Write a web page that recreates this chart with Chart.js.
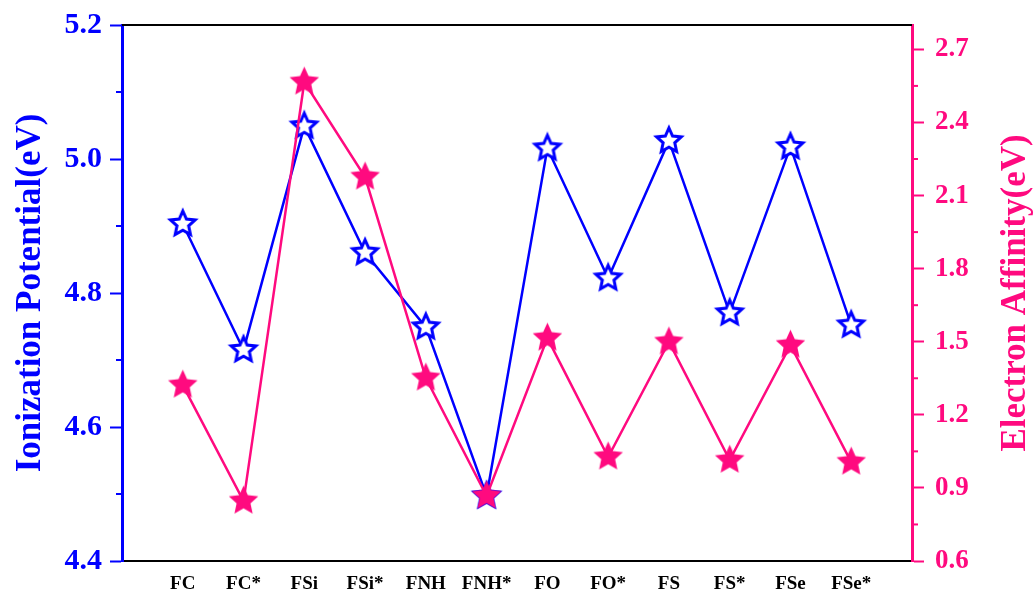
<!DOCTYPE html>
<html>
<head>
<meta charset="utf-8">
<script src="https://cdn.jsdelivr.net/npm/chart.js@4.4.0/dist/chart.umd.min.js"></script>
<style>
  html, body { margin: 0; padding: 0; background: #fff; }
  #wrap { width: 1035px; height: 590px; }
</style>
</head>
<body>
<div id="wrap"><canvas id="myChart"></canvas></div>
<script>
// categories
let categories = ['FC', 'FC*', 'FSi', 'FSi*', 'FNH', 'FNH*', 'FO', 'FO*', 'FS', 'FS*', 'FSe', 'FSe*'];
// Ionization Potential (eV)
let ionization = [4.903, 4.715, 5.049, 4.860, 4.749, 4.497, 5.016, 4.822, 5.027, 4.770, 5.018, 4.752];
// Electron Affinity (eV)
let affinity = [1.322, 0.846, 2.566, 2.176, 1.351, 0.867, 1.515, 1.027, 1.499, 1.014, 1.486, 1.006];
// tick labels
let leftTicks = [4.4, 4.6, 4.8, 5.0, 5.2];
let rightTicks = [0.6, 0.9, 1.2, 1.5, 1.8, 2.1, 2.4, 2.7];

const BLUE = '#0000ff';
const PINK = '#ff0a7f';
const FONT = '"Liberation Serif", "Times New Roman", serif';

// 5-point star marker as canvas
function makeStar(R, fill, stroke, lw) {
    let size = Math.ceil(R * 2 + lw * 2 + 2);
    let c = document.createElement('canvas');
    c.width = size; c.height = size;
    let g = c.getContext('2d');
    let cx = size / 2, cy = size / 2, r = R * 0.47;
    g.beginPath();
    for (let i = 0; i < 10; i++) {
        let rad = i % 2 === 0 ? R : r;
        let a = -Math.PI / 2 + i * Math.PI / 5;
        let px = cx + rad * Math.cos(a), py = cy + rad * Math.sin(a);
        if (i === 0) g.moveTo(px, py); else g.lineTo(px, py);
    }
    g.closePath();
    g.fillStyle = fill;
    g.fill();
    if (stroke) {
        g.lineJoin = 'miter';
        g.lineWidth = lw;
        g.strokeStyle = stroke;
        g.stroke();
    }
    return c;
}
let hollowStar = makeStar(13, '#ffffff', BLUE, 3);
let solidStar = makeStar(15.5, PINK, null, 0);

// top frame, minor ticks, axis titles (both read bottom-to-top)
const framePlugin = {
    id: 'frame',
    afterDraw(chart) {
        let ctx = chart.ctx, a = chart.chartArea;
        ctx.save();
        ctx.strokeStyle = '#000';
        ctx.lineWidth = 2;
        ctx.beginPath();
        ctx.moveTo(a.left, a.top);
        ctx.lineTo(a.right, a.top);
        ctx.stroke();
        let drawMinor = (scale, vals, color, dir) => {
            ctx.strokeStyle = color;
            ctx.lineWidth = 2;
            vals.forEach(v => {
                let y = scale.getPixelForValue(v);
                let x0 = dir < 0 ? a.left : a.right;
                ctx.beginPath();
                ctx.moveTo(x0, y);
                ctx.lineTo(x0 + dir * 6, y);
                ctx.stroke();
            });
        };
        drawMinor(chart.scales.y, leftTicks.slice(1).map(v => v - 0.1), BLUE, -1);
        drawMinor(chart.scales.y1, rightTicks.slice(1).map(v => v - 0.15), PINK, 1);

        let drawTitle = (text, color, x) => {
            ctx.save();
            ctx.translate(x, (a.top + a.bottom) / 2);
            ctx.rotate(-Math.PI / 2);
            ctx.fillStyle = color;
            ctx.font = 'bold 35px ' + FONT;
            ctx.textAlign = 'center';
            ctx.textBaseline = 'middle';
            ctx.fillText(text, 0, 0);
            ctx.restore();
        };
        drawTitle('Ionization Potential(eV)', BLUE, 31);
        drawTitle('Electron Affinity(eV)', PINK, a.right + 104);
        ctx.restore();
    }
};

let fitY = w => s => { s.width = w; s.paddingTop = 0; s.paddingBottom = 0; };

let ctx = document.getElementById('myChart');
let myChart = new Chart(ctx, {
    type: 'line',
    data: {
        datasets: [{
            label: 'Ionization Potential',
            data: categories.map((c, i) => ({ x: i + 1, y: ionization[i] })),
            yAxisID: 'y',
            borderColor: BLUE,
            borderWidth: 2.5,
            pointStyle: hollowStar,
            order: 2
        }, {
            label: 'Electron Affinity',
            data: categories.map((c, i) => ({ x: i + 1, y: affinity[i] })),
            yAxisID: 'y1',
            borderColor: PINK,
            borderWidth: 2.5,
            pointStyle: solidStar,
            order: 1
        }]
    },
    options: {
        responsive: true,
        maintainAspectRatio: false,
        animation: false,
        layout: { padding: { top: 25 } },
        plugins: {
            legend: { display: false },
            tooltip: { enabled: false }
        },
        scales: {
            x: {
                type: 'linear',
                min: 0,
                max: 13,
                afterBuildTicks: s => { s.ticks = categories.map((c, i) => ({ value: i + 1 })); },
                ticks: {
                    autoSkip: false,
                    maxRotation: 0,
                    padding: 4,
                    color: '#000',
                    font: { family: FONT, size: 19, weight: 'bold' },
                    callback: v => categories[v - 1] || ''
                },
                grid: { display: false },
                border: { color: '#000', width: 2 },
                afterFit: s => { s.height = 29; s.paddingLeft = 0; s.paddingRight = 0; }
            },
            y: {
                position: 'left',
                min: 4.4,
                max: 5.2,
                afterBuildTicks: s => { s.ticks = leftTicks.map(v => ({ value: v })); },
                ticks: {
                    color: BLUE,
                    padding: 8,
                    font: { family: FONT, size: 30, weight: 'bold' },
                    callback: v => v.toFixed(1)
                },
                grid: { drawOnChartArea: false, tickLength: 12, tickWidth: 2, tickColor: BLUE },
                border: { color: BLUE, width: 3 },
                afterFit: fitY(122)
            },
            y1: {
                position: 'right',
                min: 0.6,
                max: 2.8,
                afterBuildTicks: s => { s.ticks = rightTicks.map(v => ({ value: v })); },
                ticks: {
                    color: PINK,
                    padding: 11,
                    font: { family: FONT, size: 27, weight: 'bold' },
                    callback: v => v.toFixed(1)
                },
                grid: { drawOnChartArea: false, tickLength: 12, tickWidth: 2, tickColor: PINK },
                border: { color: PINK, width: 3 },
                afterFit: fitY(123)
            }
        }
    },
    plugins: [framePlugin]
});
</script>
</body>
</html>
